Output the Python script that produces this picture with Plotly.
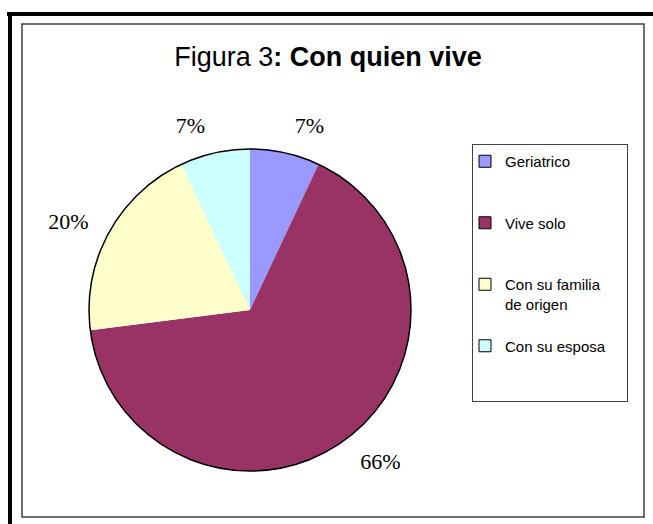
import plotly.graph_objects as go

# ------------------------------------------> Data < ---------------------------------------
categories = ["Geriatrico", "Vive solo", "Con su familia<br>de origen", "Con su esposa"]
percent_values = [7, 66, 20, 7]
slice_colors = ["#9999FF", "#993366", "#FFFFCC", "#CCFFFF"]

W, H = 653, 524

def px_x(x):
    return x / W

def px_y(y):
    return 1 - y / H

def pie_box(cx, cy, r):
    return dict(x=[px_x(cx - r), px_x(cx + r)], y=[px_y(cy + r), px_y(cy - r)])

pie_domain = pie_box(250, 310, 161)
label_domain = pie_box(250, 310, 177)   # percent labels sit a bit away from the pie
hidden_domain = pie_box(300, 390, 10)   # tucked under the big slice, only feeds the legend

# legend entries padded so they spread out like the Excel legend
legend_text = []
for c in categories:
    lines = c.count("<br>") + 1
    legend_text.append(c + "<br> " * (3 - lines))
# widen the legend box a little (nbsp is not trimmed)
legend_text[-1] = legend_text[-1].replace("esposa", "esposa" + "\u00a0" * 4)

fig = go.Figure()

# tiny pie hidden under the visible one: gives the legend squares a black border
fig.add_trace(go.Pie(
    labels=legend_text, values=percent_values,
    marker=dict(colors=slice_colors, line=dict(color="#000000", width=1)),
    sort=False, direction="clockwise", rotation=0,
    textinfo="none", hoverinfo="skip",
    domain=hidden_domain,
))

# visible pie, no lines between slices
fig.add_trace(go.Pie(
    labels=legend_text, values=percent_values,
    marker=dict(colors=slice_colors, line=dict(width=0)),
    sort=False, direction="clockwise", rotation=0,
    textinfo="none", showlegend=False,
    hoverinfo="label+percent",
    domain=pie_domain,
))

# outline around the whole pie (circumference only)
fig.add_trace(go.Pie(
    values=[sum(percent_values)], labels=["total"],
    marker=dict(colors=["rgba(0,0,0,0)"], line=dict(color="#000000", width=1.5)),
    textinfo="none", showlegend=False, hoverinfo="skip",
    domain=pie_domain,
))

# transparent pie carrying the percent labels
fig.add_trace(go.Pie(
    labels=legend_text, values=percent_values,
    marker=dict(colors=["rgba(0,0,0,0)"] * len(percent_values), line=dict(width=0)),
    sort=False, direction="clockwise", rotation=0,
    texttemplate="%{percent:.0%}", textposition="outside",
    outsidetextfont=dict(family="Liberation Serif, Times New Roman, serif", size=22, color="#000000"),
    showlegend=False, hoverinfo="skip",
    domain=label_domain,
))

shapes = [
    # thick frame top / left
    dict(type="line", x0=px_x(7), x1=1, y0=px_y(14), y1=px_y(14),
         line=dict(color="#000000", width=4)),
    dict(type="line", x0=px_x(10), x1=px_x(10), y0=px_y(12), y1=0,
         line=dict(color="#000000", width=4)),
    # chart area border
    dict(type="rect", x0=px_x(22), x1=px_x(644), y0=px_y(24), y1=px_y(517),
         line=dict(color="#404040", width=1.5)),
]

fig.update_layout(
    width=W, height=H,
    margin=dict(l=0, r=0, t=0, b=0),
    paper_bgcolor="#FFFFFF",
    plot_bgcolor="#FFFFFF",
    font=dict(family="Arial, Liberation Sans, sans-serif", color="#000000"),
    title=dict(
        text="Figura 3<b>: Con quien vive</b>",
        x=px_x(328), xanchor="center",
        y=px_y(57), yanchor="middle",
        font=dict(family="Arial, Liberation Sans, sans-serif", size=27, color="#000000"),
    ),
    legend=dict(
        x=px_x(472), y=px_y(144), xanchor="left", yanchor="top",
        bordercolor="#404040", borderwidth=1,
        bgcolor="#FFFFFF",
        font=dict(family="Arial, Liberation Sans, sans-serif", size=15, color="#000000"),
        valign="top",
        traceorder="normal",
        indentation=-8,
    ),
    shapes=shapes,
)

fig.write_html("out.html", config={"displayModeBar": False},
               post_script="document.body.style.margin='0';")
